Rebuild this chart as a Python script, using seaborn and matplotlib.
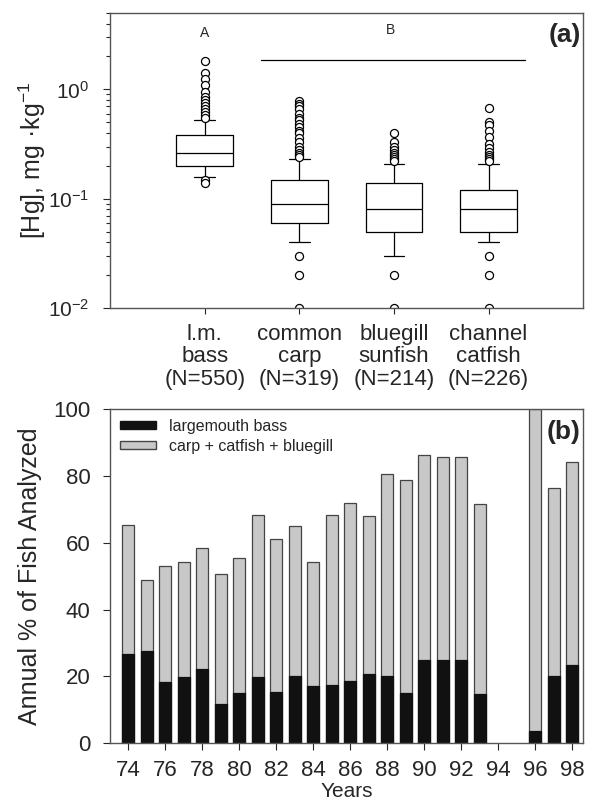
import numpy as np
import pandas as pd
import seaborn as sns
import matplotlib.pyplot as plt
from matplotlib.patches import Patch

# panel (a): box statistics
species = ["l.m.\nbass\n(N=550)", "common\ncarp\n(N=319)", "bluegill\nsunfish\n(N=214)", "channel\ncatfish\n(N=226)"]
q1 = [0.20, 0.06, 0.05, 0.05]
med = [0.26, 0.09, 0.08, 0.08]
q3 = [0.38, 0.15, 0.14, 0.12]
whis_lo = [0.16, 0.04, 0.03, 0.04]
whis_hi = [0.53, 0.23, 0.21, 0.21]
fliers_bass = [1.8, 1.42, 1.25, 1.1, 0.95, 0.85, 0.8, 0.75, 0.7, 0.66, 0.62, 0.58, 0.55, 0.15, 0.14]
fliers_carp = [0.78, 0.74, 0.7, 0.66, 0.6, 0.55, 0.52, 0.48, 0.45, 0.42, 0.4, 0.36, 0.33, 0.3,
               0.28, 0.26, 0.25, 0.24, 0.03, 0.02, 0.01]
fliers_bluegill = [0.4, 0.33, 0.3, 0.28, 0.26, 0.25, 0.24, 0.23, 0.22, 0.02, 0.01]
fliers_catfish = [0.68, 0.5, 0.47, 0.42, 0.37, 0.32, 0.29, 0.27, 0.25, 0.24, 0.23, 0.22,
                  0.03, 0.02, 0.01]

# panel (b): annual % of fish analyzed
years = [74, 75, 76, 77, 78, 79, 80, 81, 82, 83, 84, 85, 86, 87, 88, 89, 90, 91, 92, 93, 96, 97, 98]
total_pct = [65.3, 48.8, 53.2, 54.2, 58.3, 50.6, 55.5, 68.2, 61.0, 65.0, 54.2, 68.3, 72.0, 68.1,
             80.7, 78.8, 86.4, 85.7, 85.7, 71.7, 100.0, 76.5, 84.2]
bass_pct = [26.8, 27.7, 18.2, 19.9, 22.3, 11.8, 15.1, 19.9, 15.4, 20.1, 17.2, 17.5, 18.5, 20.8,
            20.1, 15.1, 25.0, 25.0, 25.0, 14.8, 3.7, 20.2, 23.5]

sns.set_style("ticks")
plt.rcParams["font.family"] = ["Liberation Sans", "DejaVu Sans"]
plt.rcParams["mathtext.default"] = "regular"
plt.rcParams["axes.unicode_minus"] = False
plt.rcParams["axes.edgecolor"] = "#555555"
plt.rcParams["axes.linewidth"] = 1.0

fig = plt.figure(figsize=(5.89, 8.07), dpi=100)
ax1 = fig.add_axes([0.187, 0.618, 0.803, 0.366])
ax2 = fig.add_axes([0.187, 0.079, 0.803, 0.414])

# ---- (a) boxplots
fliers = [fliers_bass, fliers_carp, fliers_bluegill, fliers_catfish]
stats = []
for i in range(len(species)):
    stats.append(dict(med=med[i], q1=q1[i], q3=q3[i], whislo=whis_lo[i], whishi=whis_hi[i],
                      fliers=fliers[i]))
ax1.bxp(stats, positions=[1, 2, 3, 4], widths=0.6, capwidths=0.22, showfliers=True,
        boxprops=dict(color="black", lw=0.9),
        medianprops=dict(color="black", lw=0.9),
        whiskerprops=dict(color="black", lw=0.9),
        capprops=dict(color="black", lw=0.9),
        flierprops=dict(marker="o", mfc="white", mec="black", ms=5.8, mew=0.9))
ax1.set_yscale("log")
ax1.set_ylim(0.01, 5)
ax1.set_xlim(0, 5)
ax1.set_xticks([1, 2, 3, 4])
ax1.set_xticklabels(species, fontsize=16, linespacing=1.12)
ax1.tick_params(axis="y", which="major", labelsize=15, direction="out", length=5, pad=10)
ax1.tick_params(axis="y", which="minor", direction="out", length=3, width=0.8)
ax1.tick_params(axis="x", direction="out", length=4, pad=7)
ax1.set_ylabel("[Hg], mg ·kg$^{-1}$", fontsize=18, labelpad=0)
ax1.plot([1.6, 4.39], [1.87, 1.87], color="black", lw=0.9)
ax1.text(1, 3.3, "A", ha="center", va="center", fontsize=10)
ax1.text(2.96, 3.5, "B", ha="center", va="center", fontsize=10)
ax1.text(0.995, 0.966, "(a)", transform=ax1.transAxes, ha="right", va="top",
         fontsize=19, fontweight="bold")

# ---- (b) stacked bars
df = pd.DataFrame({"year": years, "total": total_pct, "bass": bass_pct})
sns.barplot(data=df, x="year", y="total", native_scale=True, width=0.65,
            color="#c8c8c8", edgecolor="#444444", linewidth=0.9, saturation=1, ax=ax2)
sns.barplot(data=df, x="year", y="bass", native_scale=True, width=0.65,
            color="#111111", edgecolor="#111111", linewidth=0.9, saturation=1, ax=ax2)
ax2.set_xlim(73.03, 98.6)
ax2.set_ylim(0, 100)
ax2.set_xticks(range(74, 99, 2))
ax2.set_xticklabels([str(y) for y in range(74, 99, 2)])
ax2.set_yticks([0, 20, 40, 60, 80, 100])
ax2.tick_params(axis="x", labelsize=16, direction="out", length=5, pad=7)
ax2.tick_params(axis="y", labelsize=16, direction="out", length=5, pad=9)
ax2.set_xlabel("Years", fontsize=15, labelpad=1)
ax2.set_ylabel("Annual % of Fish Analyzed", fontsize=18, labelpad=8)
handles = [Patch(facecolor="#111111", edgecolor="#111111", label="largemouth bass"),
           Patch(facecolor="#c8c8c8", edgecolor="#444444", label="carp + catfish + bluegill")]
ax2.legend(handles=handles, loc="upper left", frameon=False, fontsize=11.5,
           handlelength=2.3, handleheight=0.45, handletextpad=0.8,
           borderaxespad=0.2, labelspacing=0.3)
ax2.text(0.995, 0.967, "(b)", transform=ax2.transAxes, ha="right", va="top",
         fontsize=19, fontweight="bold")

for ax in (ax1, ax2):
    for s in ax.spines.values():
        s.set_visible(True)

fig.savefig("out.png", dpi=100)
